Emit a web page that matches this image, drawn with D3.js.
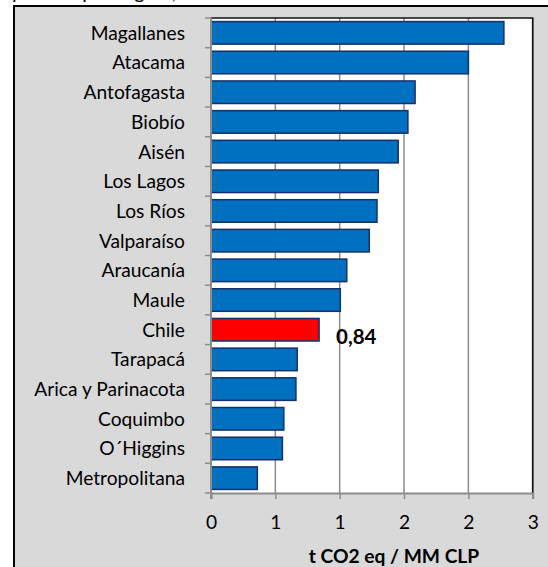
<!DOCTYPE html>
<html>
<head>
<meta charset="utf-8">
<script src="https://cdn.jsdelivr.net/npm/d3@7"></script>
<style>
  html, body { margin: 0; padding: 0; background: #fff; }
  svg { display: block; }
  text { font-family: Lato, "Open Sans", sans-serif; }
</style>
</head>
<body>
<script>
// Emission intensity by region (t CO2 eq per million CLP)
const regions = ["Magallanes", "Atacama", "Antofagasta", "Biobío", "Aisén", "Los Lagos",
  "Los Ríos", "Valparaíso", "Araucanía", "Maule", "Chile", "Tarapacá",
  "Arica y Parinacota", "Coquimbo", "O´Higgins", "Metropolitana"];
const intensity = [2.276, 2.0, 1.586, 1.53, 1.455, 1.30, 1.29, 1.23, 1.055, 1.005,
  0.84, 0.67, 0.66, 0.566, 0.555, 0.36];
const highlighted = ["Chile"];
const xTicks = [0, 0.5, 1, 1.5, 2, 2.5];
const xTitle = "t CO2 eq / MM CLP";
const heading = "por PIB por región, 2013";

const W = 548, H = 567;
const m = { left: 211, right: 532.7, top: 18, bottom: 493 };
const FS = 19.2;

const svg = d3.select("body").append("svg").attr("width", W).attr("height", H);

// heading of the surrounding document, cut by the frame
svg.append("text").attr("x", 12).attr("y", -1)
  .attr("font-size", 20).attr("fill", "#000").text(heading);

// chart frame
svg.append("rect").attr("x", 14).attr("y", 6).attr("width", W + 20).attr("height", H + 20)
  .attr("fill", "#d9d9d9").attr("stroke", "#000").attr("stroke-width", 2);

const x = d3.scaleLinear().domain([0, 2.5]).range([m.left, m.right]);
const y = d3.scaleBand().domain(regions).range([m.top, m.bottom]).paddingInner(0.24).paddingOuter(0.12);

// plot area
svg.append("rect").attr("x", m.left).attr("y", m.top)
  .attr("width", m.right - m.left).attr("height", m.bottom - m.top).attr("fill", "#fff");

// vertical gridlines
svg.append("g").selectAll("line").data(xTicks.slice(1)).join("line")
  .attr("x1", d => x(d)).attr("x2", d => x(d))
  .attr("y1", m.top).attr("y2", m.bottom)
  .attr("stroke", "#8c8c8c").attr("stroke-width", 1.5);

// top and right border of the plot
svg.append("path")
  .attr("d", `M${m.left},${m.top}H${m.right}V${m.bottom}`)
  .attr("fill", "none").attr("stroke", "#111").attr("stroke-width", 1.6);

// bars
svg.append("g").selectAll("rect").data(regions).join("rect")
  .attr("x", x(0))
  .attr("y", d => y(d))
  .attr("width", (d, i) => x(intensity[i]) - x(0))
  .attr("height", y.bandwidth())
  .attr("fill", d => highlighted.includes(d) ? "#ff0000" : "#0070c0")
  .attr("stroke", "#17306b").attr("stroke-width", 1.5);

// value label for the highlighted bar
highlighted.forEach(name => {
  const v = intensity[regions.indexOf(name)];
  svg.append("text")
    .attr("x", 336).attr("y", y(name) + y.bandwidth() / 2 + 14)
    .attr("font-size", 20.5).attr("font-weight", "bold").attr("fill", "#000")
    .text(d3.format(".2f")(v).replace(".", ","));
});

// x axis
const xAxis = d3.axisBottom(x).tickValues(xTicks).tickFormat(d3.format(".0f"))
  .tickSize(6).tickPadding(16);
const gx = svg.append("g").attr("transform", `translate(0,${m.bottom})`).call(xAxis);
gx.select(".domain").attr("stroke", "#8c8c8c").attr("stroke-width", 2);
gx.selectAll(".tick line").attr("stroke", "#8c8c8c").attr("stroke-width", 1.5);
gx.selectAll(".tick text").attr("font-size", FS).attr("fill", "#000")
  .attr("font-family", "Lato, sans-serif");

// y axis: category labels, ticks at band boundaries
const gy = svg.append("g");
gy.append("line").attr("x1", m.left).attr("x2", m.left).attr("y1", m.top).attr("y2", m.bottom + 6)
  .attr("stroke", "#8c8c8c").attr("stroke-width", 2);
const bounds = d3.range(regions.length + 1).map(i => m.top + i * (m.bottom - m.top) / regions.length);
gy.selectAll("line.tk").data(bounds).join("line").attr("class", "tk")
  .attr("x1", m.left - 6).attr("x2", m.left).attr("y1", d => d).attr("y2", d => d)
  .attr("stroke", "#8c8c8c").attr("stroke-width", 1.5);
gy.selectAll("text").data(regions).join("text")
  .attr("x", 185).attr("y", d => y(d) + y.bandwidth() / 2)
  .attr("dy", "0.36em").attr("text-anchor", "end")
  .attr("font-size", FS).attr("fill", "#000").text(d => d);

// axis title
svg.append("text").attr("x", 394).attr("y", 563).attr("text-anchor", "middle")
  .attr("font-size", FS).attr("font-weight", "bold").attr("fill", "#000").text(xTitle);
</script>
</body>
</html>
